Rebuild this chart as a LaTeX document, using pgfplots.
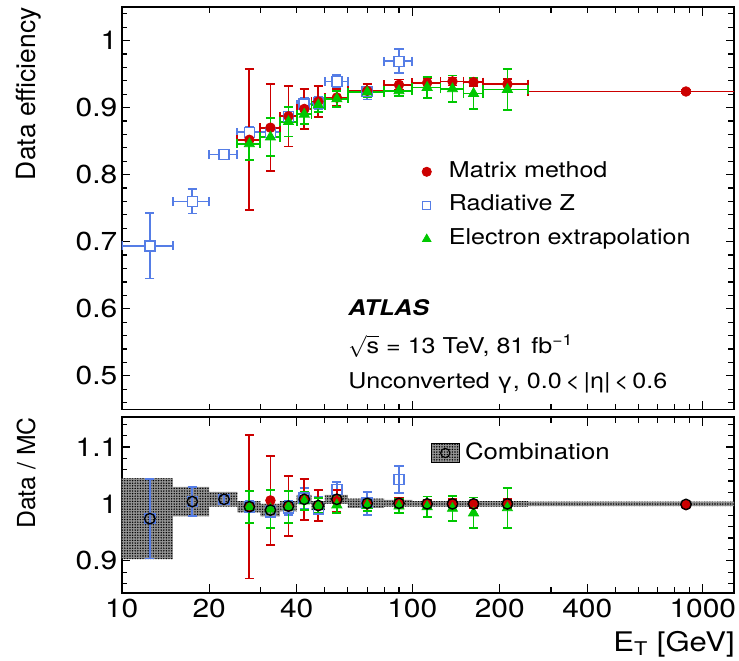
\documentclass[border=0pt]{standalone}
\usepackage{fontspec}
\setmainfont{TeX Gyre Heros}[FakeStretch=1.15]
\newfontfamily\plainfont{TeX Gyre Heros}
\usepackage{pgfplots}
\pgfplotsset{compat=1.18}
\usepackage{pgfplotstable}
\usetikzlibrary{patterns.meta}

\definecolor{mmred}{RGB}{204,0,0}
\definecolor{rzblue}{RGB}{85,125,230}
\definecolor{eegreen}{RGB}{0,200,0}

% top panel: efficiencies
\pgfplotstableread{
x y xm xp ey
27.5 0.852 2.5 2.5 0.105
32.5 0.870 2.5 2.5 0.065
37.5 0.887 2.5 2.5 0.045
42.5 0.898 2.5 2.5 0.030
47.5 0.909 2.5 2.5 0.023
55 0.915 5 5 0.013
70 0.925 10 10 0.010
90 0.934 10 10 0.008
112.5 0.937 12.5 12.5 0.007
137.5 0.939 12.5 12.5 0.006
162.5 0.938 12.5 12.5 0.006
212.5 0.935 37.5 37.5 0.008
875 0.924 625 625 0.003
}\redtop
\pgfplotstableread{
x y xm xp ey
12.5 0.694 2.5 2.5 0.049
17.5 0.760 2.5 2.5 0.018
22.5 0.830 2.5 2.5 0.006
27.5 0.863 2.5 2.5 0.008
32.5 0.863 2.5 2.5 0.008
37.5 0.887 2.5 2.5 0.007
42.5 0.905 2.5 2.5 0.010
47.5 0.907 2.5 2.5 0.009
55 0.939 5 5 0.010
70 0.924 10 10 0.012
90 0.969 10 10 0.018
}\bluetop
\pgfplotstableread{
x y xm xp ey
27.5 0.846 2.5 2.5 0.024
32.5 0.856 2.5 2.5 0.028
37.5 0.879 2.5 2.5 0.022
42.5 0.890 2.5 2.5 0.015
47.5 0.904 2.5 2.5 0.011
55 0.913 5 5 0.012
70 0.923 10 10 0.008
90 0.925 10 10 0.008
112.5 0.930 12.5 12.5 0.016
137.5 0.928 12.5 12.5 0.020
162.5 0.921 12.5 12.5 0.023
212.5 0.927 37.5 37.5 0.031
}\greentop

% bottom panel: data / MC
\pgfplotstableread{
x y ey
27.5 0.995 0.126
32.5 1.006 0.078
37.5 0.996 0.053
42.5 1.008 0.036
47.5 0.997 0.027
55 1.005 0.019
70 0.999 0.011
90 1.002 0.009
112.5 0.999 0.008
137.5 1.001 0.007
162.5 0.999 0.007
212.5 1.000 0.008
875 0.998 0.003
}\redrat
\pgfplotstableread{
x y ey
12.5 0.974 0.070
17.5 1.004 0.025
22.5 1.008 0.008
27.5 0.995 0.010
32.5 0.986 0.010
37.5 0.993 0.012
42.5 1.010 0.018
47.5 0.991 0.022
55 1.025 0.013
70 1.001 0.020
90 1.043 0.024
}\bluerat
\pgfplotstableread{
x y ey
27.5 0.995 0.028
32.5 0.991 0.033
37.5 0.995 0.028
42.5 1.005 0.016
47.5 0.997 0.013
55 0.998 0.014
70 0.997 0.010
90 0.996 0.012
112.5 0.995 0.018
137.5 0.992 0.022
162.5 0.984 0.027
212.5 0.993 0.035
}\greenrat
\pgfplotstableread{
x y
12.5 0.974
17.5 1.004
22.5 1.008
27.5 0.995
32.5 0.989
37.5 0.996
42.5 1.008
47.5 0.997
55 1.008
70 1.001
90 1.001
112.5 1.000
137.5 1.000
162.5 1.000
212.5 1.000
875 0.999
}\combo
% combination uncertainty band (outline of the per-bin boxes)
\pgfplotstableread{
x y
10 1.045
15 1.045
15 1.030
20 1.030
20 1.021
25 1.021
25 1.005
30 1.005
30 1.000
35 1.000
35 1.005
40 1.005
40 1.016
45 1.016
45 1.005
50 1.005
50 1.016
60 1.016
60 1.009
80 1.009
80 1.007
100 1.007
100 1.005
250 1.005
250 1.004
1500 1.004
1500 0.996
250 0.996
250 0.995
100 0.995
80 0.995
80 0.993
60 0.993
60 1.000
50 1.000
50 0.989
45 0.989
45 1.000
40 1.000
40 0.987
35 0.987
35 0.978
30 0.978
30 0.985
25 0.985
25 0.995
20 0.995
20 0.978
15 0.978
15 0.903
10 0.903
}\band

\pgfplotsset{/pgf/number format/assume math mode=true}

\begin{document}
\begin{tikzpicture}
\useasboundingbox (0,0) rectangle (369.5pt,330pt);

% ---------------- top panel ----------------
\begin{axis}[
  scale only axis, xmode=log, xmin=10, xmax=1280,
  axis line style={line width=0.8pt},
  every tick/.style={black, line width=0.6pt},
  tick align=inside,
  xtick={10,100,1000},
  minor xtick={20,30,40,50,60,70,80,90,200,300,400,500,600,700,800,900},
  ticklabel style={font=\fontsize{13}{14}\selectfont},
  yticklabel style={inner xsep=2pt},
  at={(60.85pt,125.35pt)}, anchor=south west,
  width=306.15pt, height=201.15pt,
  ymin=0.45, ymax=1.05,
  ytick={0.5,0.6,0.7,0.8,0.9,1.0},
  yticklabels={0.5,0.6,0.7,0.8,0.9,1},
  minor ytick={0.46,0.48,0.52,0.54,0.56,0.58,0.62,0.64,0.66,0.68,0.72,0.74,0.76,0.78,0.82,0.84,0.86,0.88,0.92,0.94,0.96,0.98,1.02,1.04},
  xticklabels={},
  legend image code/.code={\draw[#1] plot coordinates {(0pt,0pt)};},
  legend cell align=left,
  legend style={draw=none, fill=none, at={(0.490,0.6175)}, anchor=north west,
    inner sep=0pt, row sep=6.3pt, column sep=8.8pt,
    font=\fontsize{10.9}{13}\selectfont,
    nodes={inner sep=0pt, text height=8pt, text depth=2.5pt}},
]
\addplot[forget plot, only marks, mark=square*, mark size=2.5pt,
  mark options={fill=white, draw=rzblue, line width=0.8pt},
  error bars/.cd, x dir=both, x explicit, y dir=both, y explicit,
  error bar style={line width=0.9pt, rzblue},
  error mark options={rotate=90, mark size=2.3pt, line width=0.9pt, rzblue}]
  table[x=x, y=y, x error plus=xp, x error minus=xm, y error=ey] {\bluetop};
\addplot[forget plot, only marks, mark=*, mark size=2.4pt, mmred,
  error bars/.cd, x dir=both, x explicit, y dir=both, y explicit,
  error bar style={line width=0.9pt, mmred},
  error mark options={rotate=90, mark size=2.3pt, line width=0.9pt, mmred}]
  table[x=x, y=y, x error plus=xp, x error minus=xm, y error=ey] {\redtop};
\addplot[forget plot, only marks, mark=triangle*, mark size=2.9pt, eegreen,
  error bars/.cd, x dir=both, x explicit, y dir=both, y explicit,
  error bar style={line width=0.9pt, eegreen},
  error mark options={rotate=90, mark size=2.3pt, line width=0.9pt, eegreen}]
  table[x=x, y=y, x error plus=xp, x error minus=xm, y error=ey] {\greentop};

\addlegendimage{only marks, mark=*, mmred, mark size=2.3pt}
\addlegendentry{Matrix method}
\addlegendimage{only marks, mark=square, rzblue, mark size=2pt, line width=0.75pt}
\addlegendentry{Radiative Z}
\addlegendimage{only marks, mark=triangle*, eegreen, mark size=2.4pt}
\addlegendentry{Electron extrapolation}
\end{axis}

% ---------------- bottom panel ----------------
\begin{axis}[
  scale only axis, xmode=log, xmin=10, xmax=1280,
  axis line style={line width=0.8pt},
  every tick/.style={black, line width=0.6pt},
  tick align=inside,
  xtick={10,100,1000},
  minor xtick={20,30,40,50,60,70,80,90,200,300,400,500,600,700,800,900},
  ticklabel style={font=\fontsize{13}{14}\selectfont},
  yticklabel style={inner xsep=2pt},
  xticklabel style={inner ysep=3pt},
  at={(60.85pt,33.65pt)}, anchor=south west,
  width=306.15pt, height=87.7pt,
  ymin=0.844, ymax=1.152,
  ytick={0.9,1.0,1.1},
  yticklabels={0.9,1,1.1},
  minor ytick={0.86,0.88,0.92,0.94,0.96,0.98,1.02,1.04,1.06,1.08,1.12,1.14},
  xticklabels={10,100,1000},
  extra x ticks={20,40,200,400},
  extra x tick labels={20,40,200,400},
  legend image code/.code={%
    \fill[black!42] (-6.9pt,-4.6pt) rectangle (6.9pt,4.6pt);
    \fill[pattern={Dots[distance=1.3pt,radius=0.4pt]}, pattern color=black] (-6.9pt,-4.6pt) rectangle (6.9pt,4.6pt);
    \draw[black, line width=0.6pt] (0pt,0pt) circle (2.3pt);},
  legend style={draw=none, fill=none, at={(0.5046,0.855)}, anchor=north west,
    inner sep=0pt, column sep=2.8pt,
    font=\fontsize{11.2}{13}\selectfont,
    nodes={inner sep=0pt}},
]
\addplot[forget plot, draw=none, fill=black!42] table[x=x, y=y] {\band};
\addplot[forget plot, draw=none, pattern={Dots[distance=1.3pt,radius=0.4pt]}, pattern color=black] table[x=x, y=y] {\band};

\addplot[forget plot, only marks, mark=square, mark size=2.5pt,
  mark options={draw=rzblue, line width=0.8pt}, rzblue,
  error bars/.cd, y dir=both, y explicit,
  error bar style={line width=0.9pt, rzblue},
  error mark options={rotate=90, mark size=2.3pt, line width=0.9pt, rzblue}]
  table[x=x, y=y, y error=ey] {\bluerat};
\addplot[forget plot, only marks, mark=*, mark size=2.4pt, mmred,
  error bars/.cd, y dir=both, y explicit,
  error bar style={line width=0.9pt, mmred},
  error mark options={rotate=90, mark size=2.3pt, line width=0.9pt, mmred}]
  table[x=x, y=y, y error=ey] {\redrat};
\addplot[forget plot, only marks, mark=triangle*, mark size=2.9pt, eegreen,
  error bars/.cd, y dir=both, y explicit,
  error bar style={line width=0.9pt, eegreen},
  error mark options={rotate=90, mark size=2.3pt, line width=0.9pt, eegreen}]
  table[x=x, y=y, y error=ey] {\greenrat};
\addplot[forget plot, only marks, mark=o, mark size=2.6pt,
  mark options={draw=black, line width=0.7pt}]
  table[x=x, y=y] {\combo};

\addlegendimage{black}
\addlegendentry{Combination}
\end{axis}

% ---------------- texts ----------------
\node[anchor=base west, inner sep=0pt, font=\fontsize{10.8}{13}\selectfont] at (174pt,172.5pt) {\textbf{\textit{ATLAS}}};
\node[anchor=base west, inner sep=0pt, font=\fontsize{10.9}{13}\selectfont] at (174pt,153.35pt) {$\sqrt{\mbox{s}}$ = 13 TeV, 81 fb\textsuperscript{−1}};
\node[anchor=base west, inner sep=0pt, font=\fontsize{10.9}{13}\selectfont] at (174pt,135.85pt) {Unconverted γ, 0.0\,<\,|η|\,<\,0.6};

\node[rotate=90, anchor=base east, inner sep=0pt, font=\plainfont\fontsize{13.2}{15}\selectfont] at (17.5pt,326.5pt) {Data efficiency};
\node[rotate=90, anchor=base east, inner sep=0pt, font=\plainfont\fontsize{12.4}{15}\selectfont] at (17.5pt,121.65pt) {Data / MC};
\node[anchor=base east, inner sep=0pt, font=\fontsize{13.5}{15}\selectfont] at (367.5pt,4.5pt) {E\textsubscript{T} [GeV]};
\end{tikzpicture}
\end{document}
